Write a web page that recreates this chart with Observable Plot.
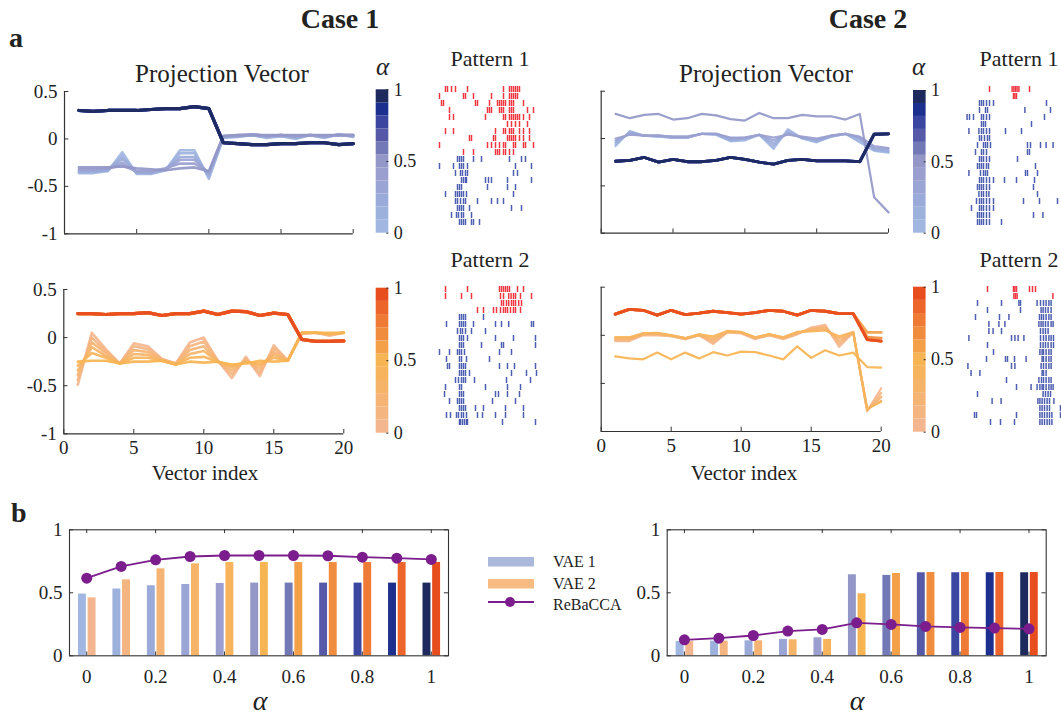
<!DOCTYPE html>
<html><head><meta charset="utf-8">
<script src="https://cdn.jsdelivr.net/npm/d3@7"></script>
<script src="https://cdn.jsdelivr.net/npm/@observablehq/plot@0.6"></script>
<style>
body{margin:0;overflow:hidden;background:#fff;}
#root{position:relative;width:1061px;height:717px;font-family:"Liberation Serif","Times New Roman",serif;color:#222;overflow:hidden;}
.t{position:absolute;white-space:nowrap;line-height:1;}
</style></head><body><div id="root"></div>
<script>
// ---------------- data ----------------
const vectorIndex = [1,2,3,4,5,6,7,8,9,10,11,12,13,14,15,16,17,18,19,20];
const alphas = [0,0.1,0.2,0.3,0.4,0.5,0.6,0.7,0.8,0.9,1];
const alphaTicks = [0,0.2,0.4,0.6,0.8,1];
const projTicksY = [-1,-0.5,0,0.5];
const projTicksX = [0,5,10,15,20];
const bluePalette = ["#a1b6e1","#9db1dd","#9aabd9","#9ba5d5","#9a9fcf","#9397c7","#7378b6","#5559a8","#3a469f","#1d2f8e","#1e2a5e"];
const orangePalette = ["#f4b68e","#f5b580","#f5b474","#f6b468","#f7b45c","#f7b452","#f3a048","#f08c3e","#ee7a36","#ec662c","#e84d1e"];

// Case 1, projection vector, pattern 1 (blue), one array per alpha
const c1TopDark = [0.30,0.29,0.30,0.30,0.30,0.31,0.32,0.32,0.34,0.32,-0.04,-0.05,-0.06,-0.06,-0.05,-0.05,-0.04,-0.04,-0.06,-0.05];
const c1TopLines = [
  [-0.36,-0.36,-0.34,-0.14,-0.37,-0.37,-0.33,-0.12,-0.12,-0.42,0.01,0.02,0.04,0.01,0.03,0.00,0.04,0.01,0.05,0.02],
  [-0.35,-0.35,-0.33,-0.18,-0.36,-0.36,-0.33,-0.15,-0.15,-0.40,0.02,0.03,0.04,0.02,0.03,0.01,0.04,0.02,0.05,0.03],
  [-0.34,-0.34,-0.33,-0.21,-0.35,-0.36,-0.32,-0.19,-0.19,-0.38,0.02,0.03,0.04,0.02,0.04,0.02,0.04,0.02,0.04,0.03],
  [-0.33,-0.33,-0.32,-0.25,-0.35,-0.35,-0.32,-0.22,-0.22,-0.36,0.03,0.03,0.05,0.03,0.04,0.02,0.04,0.03,0.04,0.04],
  [-0.32,-0.32,-0.31,-0.28,-0.34,-0.34,-0.31,-0.26,-0.26,-0.35,0.03,0.04,0.05,0.03,0.04,0.03,0.04,0.03,0.04,0.04],
  [-0.30,-0.30,-0.30,-0.29,-0.31,-0.32,-0.33,-0.31,-0.30,-0.34,0.03,0.04,0.04,0.04,0.04,0.04,0.04,0.04,0.04,0.04],
  c1TopDark, c1TopDark, c1TopDark, c1TopDark, c1TopDark
];
// Case 1, projection vector, pattern 2 (orange)
const c1BotDark = [0.25,0.25,0.24,0.25,0.25,0.26,0.23,0.25,0.25,0.275,0.24,0.275,0.27,0.23,0.255,0.24,-0.02,-0.04,-0.04,-0.035];
const c1BotLines = [
  [-0.49,0.05,-0.12,-0.27,-0.06,-0.09,-0.22,-0.27,-0.05,0.00,-0.24,-0.42,-0.20,-0.40,-0.08,-0.24,0.04,0.05,0.02,0.05],
  [-0.44,0.00,-0.14,-0.27,-0.09,-0.12,-0.23,-0.27,-0.09,-0.04,-0.24,-0.38,-0.22,-0.36,-0.11,-0.24,0.04,0.05,0.03,0.05],
  [-0.39,-0.05,-0.16,-0.27,-0.13,-0.15,-0.23,-0.27,-0.13,-0.09,-0.25,-0.34,-0.24,-0.32,-0.15,-0.24,0.05,0.05,0.03,0.05],
  [-0.34,-0.10,-0.19,-0.27,-0.17,-0.18,-0.24,-0.28,-0.17,-0.14,-0.25,-0.31,-0.25,-0.29,-0.18,-0.24,0.05,0.05,0.04,0.05],
  [-0.29,-0.16,-0.21,-0.27,-0.21,-0.21,-0.24,-0.28,-0.21,-0.20,-0.25,-0.29,-0.26,-0.27,-0.21,-0.24,0.05,0.05,0.04,0.05],
  [-0.25,-0.24,-0.24,-0.27,-0.25,-0.25,-0.24,-0.28,-0.25,-0.26,-0.25,-0.28,-0.27,-0.24,-0.25,-0.24,0.05,0.05,0.05,0.05],
  c1BotDark, c1BotDark, c1BotDark, c1BotDark, c1BotDark
];
// Case 2, projection vector, pattern 1 (blue)
const c2TopDark = [-0.24,-0.23,-0.20,-0.25,-0.22,-0.245,-0.245,-0.23,-0.20,-0.22,-0.25,-0.27,-0.23,-0.22,-0.235,-0.235,-0.235,-0.245,0.045,0.05];
const c2TopLines = [
  [-0.08,0.08,0.03,0.02,0.01,0.01,0.05,0.04,-0.03,-0.02,0.04,-0.11,0.10,0.00,-0.04,0.02,0.05,-0.04,-0.13,-0.15],
  [-0.06,0.07,0.03,0.02,0.01,0.01,0.05,0.04,-0.02,-0.01,0.04,-0.08,0.08,0.00,-0.03,0.02,0.05,-0.02,-0.12,-0.14],
  [-0.04,0.06,0.03,0.03,0.01,0.01,0.05,0.05,-0.01,0.00,0.04,-0.05,0.06,0.01,-0.02,0.03,0.05,0.00,-0.11,-0.13],
  [-0.02,0.05,0.03,0.03,0.02,0.02,0.05,0.05,0.00,0.01,0.04,-0.02,0.05,0.01,-0.01,0.03,0.05,0.01,-0.10,-0.11],
  [0.00,0.04,0.03,0.03,0.02,0.02,0.05,0.05,0.01,0.01,0.04,0.01,0.04,0.02,0.00,0.03,0.05,0.02,-0.08,-0.10],
  [0.26,0.215,0.25,0.26,0.20,0.215,0.26,0.245,0.205,0.19,0.27,0.215,0.215,0.25,0.235,0.235,0.20,0.26,-0.62,-0.78],
  c2TopDark, c2TopDark, c2TopDark, c2TopDark, c2TopDark
];
// Case 2, projection vector, pattern 2 (orange)
const c2BotLines = [
  [-0.06,-0.06,0.00,0.00,-0.01,-0.04,0.00,-0.09,0.03,0.02,-0.04,0.00,-0.04,0.01,0.08,0.11,-0.12,0.03,-0.79,-0.55],
  [-0.05,-0.05,0.01,0.01,-0.01,-0.04,0.00,-0.07,0.03,0.03,-0.03,0.00,-0.03,0.02,0.07,0.09,-0.09,0.03,-0.78,-0.60],
  [-0.04,-0.04,0.01,0.02,0.00,-0.03,0.00,-0.05,0.04,0.03,-0.03,0.01,-0.03,0.02,0.06,0.08,-0.06,0.03,-0.78,-0.64],
  [-0.03,-0.03,0.02,0.02,0.00,-0.03,0.01,-0.03,0.04,0.03,-0.02,0.01,-0.02,0.03,0.05,0.06,-0.03,0.03,-0.77,-0.68],
  [-0.02,-0.02,0.02,0.025,0.00,-0.03,0.01,-0.01,0.045,0.035,-0.02,0.01,-0.02,0.035,0.04,0.05,-0.01,0.035,-0.76,-0.69],
  [-0.22,-0.24,-0.25,-0.18,-0.25,-0.18,-0.24,-0.175,-0.21,-0.17,-0.175,-0.21,-0.25,-0.115,-0.235,-0.155,-0.21,-0.18,-0.33,-0.335],
  [0.22,0.27,0.26,0.21,0.26,0.215,0.23,0.25,0.235,0.22,0.235,0.26,0.25,0.21,0.26,0.25,0.225,0.225,0.03,0.03],
  [0.22,0.27,0.26,0.21,0.26,0.215,0.23,0.25,0.235,0.22,0.235,0.26,0.25,0.21,0.26,0.25,0.225,0.225,-0.02,-0.03],
  [0.22,0.27,0.26,0.21,0.26,0.215,0.23,0.25,0.235,0.22,0.235,0.26,0.25,0.21,0.26,0.25,0.225,0.225,-0.045,-0.06],
  [0.22,0.27,0.26,0.21,0.26,0.215,0.23,0.25,0.235,0.22,0.235,0.26,0.25,0.21,0.26,0.25,0.225,0.225,-0.045,-0.06],
  [0.22,0.27,0.26,0.21,0.26,0.215,0.23,0.25,0.235,0.22,0.235,0.26,0.25,0.21,0.26,0.25,0.225,0.225,-0.045,-0.06]
];

// Spike rasters: spike positions (0-50 time bins) per trial row; first rows are red
const c1P1Red = 10;
const c1P1Rows = [
  [4,5,7,9,15,33,36,37,38,39,40,41],
  [1,13,14,18,27,33,36,37,38,39,40],
  [2,3,19,20,26,30,31,32,33,34,36,37,38,43],
  [6,25,26,27,31,32,33,36,37,38,45,48],
  [6,8,24,33,34,36,37,38,39,40,41,43,46],
  [35,37,39,41,45],
  [4,8,29,33,34,36,37,38,41,43,46],
  [16,17,28,29,35,36,37,38,39,41,43,46],
  [1,25,27,29,31,33,34,38,39,43,44,48],
  [13,18,29,30,31,33,34,36,38],
  [10,11,12,13,18,22,36,42,44],
  [1,8,11,12,13,15,39,47],
  [9,11.5,12.5,14,15,38,40],
  [12,13,14,14.5,24,25.5,27,35,47],
  [10,11,12,25,35,39],
  [4,9,10,11,12,13,14.5,38],
  [9,10,11.5,13,14,20,27,30,33],
  [10,11,12,13,16,37,42],
  [7,9.5,10.5,12,13,17],
  [11,12,13,14,17,18,21]
];
const c1P2Red = 4;
const c1P2Rows = [
  [4,15,31,32,33,34,35,36,40,43],
  [4,12,17,31.5,33,35.6,36.8,38,39,41.5,47],
  [32,33,34.5,35.6,37,38,39,40.6,42],
  [20,23,28,29.5,31.5,33,34,35,36.5,38,39,41.5],
  [11,12,13,14,23],
  [4.5,11,12,13,14,18,29,32,35.6,47,48],
  [10,11.5,12.5,14,17,24],
  [11,12,13,15,29,38,49],
  [11,12,13,22,32,33,49],
  [1,6,10,11,12,13.5,31,37],
  [4.5,11,12,14.5,26],
  [5,6,11,12,13,14,31,35,38.5,49],
  [11,12,13,14,16,37,44.5,49.5],
  [9,10.5,12,13,14,18.5,34.5,46.5],
  [4,11,12,24,35,41.5],
  [3.5,11,12,13,29,30.5,35,41],
  [6,10,11,12,13,27.5,39],
  [11,12,13,14,19,23,34,43],
  [4.5,6.5,9.5,10.5,12,13,14.5,20,22.5,29,34,43],
  [11,11.5,12.5,13.5,14.5,15,32.5,49]
];
const c2P1Red = 2;
const c2P1Rows = [
  [13,24.3,25.2,26,26.8,27.7,33],
  [25,25.7,26.5],
  [8,9,10,11.5,13,15,41.5],
  [8,11,12,30.7,43.5],
  [1.8,3,5,9,10,11.5,13,40.5],
  [9,10,11,34],
  [2.7,7.7,9,10,11.5,13,21,29],
  [8,9,10.5,12,13],
  [7,10,11,12,13.5,32,33.5,38.5,41.3,44.8],
  [6,9,10,11.5,32,33],
  [8,9,10,11.5,13,27],
  [7,8,9,10,11.5,12.5,36],
  [2.7,8.5,10,11,12,31,32,37],
  [8,9,10,11.5,13,15,20.5,26.5,35.5],
  [7,8,9,10,11.5,13,35],
  [7.7,9,10,11.5,12.7,37],
  [6.5,8,9,10,11.5,13,15,30,38,47],
  [4,8,9,10,11.5,13,15],
  [7,8,9,10,11.5,13,35,39.7],
  [7,8,9,10,11.5,13,19]
];
const c2P2Red = 2;
const c2P2Rows = [
  [12,25,25.7,26.5,33,34.5,36],
  [25.2,26,26.8,44.7],
  [7,19,27.7,28.5,36.8,38.5,40,41.3,42.7,43.8],
  [12,28.5,38.8,39.8,41,42.3,43.8],
  [6,18,22.7,38,39,40,41.3,42.7,43.8],
  [12.7,17.7,20.7,37.7,38.8,39.8,41,42.3,43.8,44.8],
  [12.7,14.8,19,38.5,39.8,41,42.3],
  [2.7,24,25.7,27.3,30.2,38.5,40,41.3,42.7,43.8,45],
  [12,38.5,39.8,41,42.3,43.8,45],
  [15,38.2,39.3,40,41.3,42.7,43.8],
  [11.5,21,22,25.5,31.3,39.3,40,41.3,42.7,43.8],
  [2.2,24,25.7,38.8,40,41.3,42.7,43.8],
  [3.8,8.2,39.3,40,41.3],
  [21.5,37.7,39,40,41.3,42.7,43.8],
  [26.5,33.8,36.8,38.2,39.3,40,41.3,42.7,43.8,44.8],
  [7,39.8,41,42.3,43.5],
  [14.3,18.8,37.2,38.2,39.3,40.5,41.8,43,45.2],
  [38.2,39.3,40.5,41.8,43,48.5],
  [5.5,6.5,26.5,38.2,39.3,40.5,41.8,43,44.2,48.5],
  [13.5,18.5,25.5,38.2,39.3,40.5,41.8,43,44.2]
];

// Panel b: similarity vs alpha
const c1VAE1 = [0.49,0.53,0.556,0.566,0.574,0.577,0.577,0.577,0.577,0.577,0.577];
const c1VAE2 = [0.46,0.603,0.69,0.73,0.74,0.74,0.74,0.74,0.74,0.74,0.74];
const c1ReBaCCA = [0.616,0.709,0.762,0.788,0.796,0.796,0.796,0.794,0.783,0.775,0.765];
const c2VAE1 = [0.114,0.116,0.119,0.13,0.143,0.643,0.638,0.659,0.659,0.659,0.659];
const c2VAE2 = [0.114,0.116,0.119,0.127,0.13,0.492,0.653,0.661,0.661,0.661,0.661];
const c2ReBaCCA = [0.127,0.14,0.161,0.196,0.209,0.262,0.249,0.233,0.225,0.22,0.214];
const barTicksY = [0,0.5,1];
const legendLabels = ["VAE 1","VAE 2","ReBaCCA"];

// ---------------- layout helpers ----------------
const root = document.getElementById("root");
const FONT = "Liberation Serif, Times New Roman, serif";
const AX = "#333";
const PURPLE = "#7b1d8c";
function place(node, left, top){ node.style.position="absolute"; node.style.left=left+"px"; node.style.top=top+"px"; root.appendChild(node); return node; }
function txt(s, x, baseline, size, o={}){
  const d=document.createElement("div"); d.className="t"; d.textContent=s;
  d.style.fontSize=size+"px"; d.style.left=x+"px"; d.style.top=(baseline-0.84*size)+"px";
  if(o.bold) d.style.fontWeight="bold";
  if(o.italic) d.style.fontStyle="italic";
  if(o.center) d.style.transform="translateX(-50%)";
  root.appendChild(d); return d;
}
const baseStyle = {fontFamily: FONT, fontSize:"19px", color:"#222", background:"transparent", overflow:"visible"};
const fmt = d => String(d);

function projPlot(lines, palette, o){
  const marks = [];
  lines.forEach((arr,i)=>{
    marks.push(Plot.line(arr.map((v,j)=>({x:vectorIndex[j], y:v})), {x:"x", y:"y", stroke: palette[i], strokeWidth: o.sw[i>=6?1:0], strokeOpacity:0.92, strokeLinejoin:"round", strokeLinecap:"round"}));
  });
  marks.push(Plot.ruleX([0], {y1:-1, y2:0.5, stroke:AX, strokeWidth:1.2}));
  marks.push(Plot.ruleY([-1], {x1:0, x2:20, stroke:AX, strokeWidth:1.2}));
  marks.push(Plot.ruleY(projTicksY, {y:d=>d, x1:0, x2:0.3, stroke:AX, strokeWidth:1}));
  marks.push(Plot.ruleX(projTicksX, {x:d=>d, y1:-1, y2:-0.955, stroke:AX, strokeWidth:1}));
  return Plot.plot({
    width:o.w, height:o.h, marginLeft:o.ml, marginRight:o.mr, marginTop:o.mt, marginBottom:o.mb,
    style: baseStyle,
    x: o.xlab ? {domain:[0,20], ticks:projTicksX, tickSize:0, tickPadding:7, tickFormat:fmt, label:null} : {domain:[0,20], axis:null},
    y: o.ylab ? {domain:[-1,0.5], ticks:projTicksY, tickSize:0, tickPadding:7, tickFormat:fmt, label:null} : {domain:[-1,0.5], axis:null},
    marks
  });
}

function colorbar(palette, o){
  const bands = alphas.map((a,i)=>({i, color: palette[i]}));
  return Plot.plot({
    width:50, height:160, marginLeft:o.ml, marginRight:50-o.ml-12.6, marginTop:o.mt, marginBottom:160-o.mt-o.hh,
    style: {...baseStyle, fontSize:"18px"},
    color:{type:"identity"},
    x:{domain:[0,1], axis:null},
    y:{domain:[0,1], ticks:[0,0.5,1], tickSize:0, tickPadding:5, axis:"right", tickFormat:fmt, label:null},
    marks:[
      Plot.rect(bands, {x1:0, x2:1, y1:d=>d.i/11, y2:d=>(d.i+1)/11, fill:"color"}),
      Plot.ruleY([0,0.5,1], {y:d=>d, x1:0.85, x2:1, stroke:"#222", strokeWidth:1})
    ]
  });
}

function raster(rows, nRed, o){
  const data = rows.flatMap((r,i)=>r.map(c=>({c, row:i, red:i<nRed})));
  return Plot.plot({
    width:o.w, height:170, marginLeft:7, marginRight:o.mr, marginTop:o.mt, marginBottom:170-o.mt-155.5,
    style: baseStyle,
    color:{type:"identity"},
    x:{domain:[0,o.xmax], axis:null},
    y:{type:"band", domain:rows.map((r,i)=>i), axis:null, padding:0.2},
    marks:[Plot.tickX(data, {x:"c", y:"row", stroke:d=>d.red?"#f2202a":"#3a4ea8", strokeWidth:1.5, strokeOpacity:0.9})]
  });
}

function barPlot(v1, v2, reb, o){
  const rows = alphas.map((a,i)=>({a, v1:v1[i], v2:v2[i], r:reb[i], c1:bluePalette[i], c2:orangePalette[i]}));
  return Plot.plot({
    width:425, height:175, marginLeft:o.ml, marginRight:425-o.ml-379, marginTop:14.3, marginBottom:34.7,
    style: baseStyle,
    color:{type:"identity"},
    x:{domain:[-0.05,1.05], ticks:alphaTicks, tickSize:0, tickPadding:14, tickFormat:fmt, label:null},
    y:{domain:[0,1], ticks:barTicksY, tickSize:0, tickPadding:7, tickFormat:fmt, label:null},
    marks:[
      Plot.rectY(rows, {x1:d=>d.a-0.024, x2:d=>d.a-0.001, y1:0, y2:"v1", fill:"c1"}),
      Plot.rectY(rows, {x1:d=>d.a+0.004, x2:d=>d.a+0.027, y1:0, y2:"v2", fill:"c2"}),
      Plot.ruleX(alphaTicks, {x:d=>d, y1:0, y2:0.03, stroke:AX, strokeWidth:1}),
      Plot.ruleX(alphaTicks, {x:d=>d, y1:0.97, y2:1, stroke:AX, strokeWidth:1}),
      Plot.ruleY(barTicksY, {y:d=>d, x1:-0.05, x2:-0.038, stroke:AX, strokeWidth:1}),
      Plot.ruleY(barTicksY, {y:d=>d, x1:1.038, x2:1.05, stroke:AX, strokeWidth:1}),
      Plot.frame({stroke:AX, strokeWidth:1.1}),
      Plot.line(rows, {x:"a", y:"r", stroke:PURPLE, strokeWidth:1.8}),
      Plot.dot(rows, {x:"a", y:"r", r:5.5, fill:PURPLE, stroke:"none"})
    ]
  });
}

// ---------------- panel a ----------------
place(projPlot(c1TopLines, bluePalette, {w:360,h:165,ml:64,mr:7.3,mt:11,mb:11.7,ylab:true,xlab:false,sw:[2.6,3.2]}), 0, 80);
place(projPlot(c1BotLines, orangePalette, {w:360,h:200,ml:63.3,mr:16.7,mt:19,mb:36.7,ylab:true,xlab:true,sw:[2.6,3.2]}), 0, 270);
place(projPlot(c2TopLines, bluePalette, {w:305,h:165,ml:10.7,mr:7,mt:10.7,mb:12.3,ylab:false,xlab:false,sw:[2.2,2.8]}), 590, 80);
place(projPlot(c2BotLines, orangePalette, {w:320,h:200,ml:20.7,mr:19.3,mt:16.7,mb:39,ylab:false,xlab:true,sw:[2.2,2.8]}), 580, 270);

place(colorbar(bluePalette, {ml:5.7, mt:9.3, hh:143.4}), 370, 80);
place(colorbar(orangePalette, {ml:5.7, mt:7.7, hh:145}), 370, 280);
place(colorbar(bluePalette, {ml:5, mt:10, hh:142.7}), 908, 80);
place(colorbar(orangePalette, {ml:5, mt:6.7, hh:145}), 908, 280);

place(raster(c1P1Rows, c1P1Red, {w:115, mr:8, mt:7.1, xmax:50}), 430, 70);
place(raster(c1P2Rows, c1P2Red, {w:115, mr:8, mt:7.8, xmax:50}), 430, 270);
place(raster(c2P1Rows, c2P1Red, {w:105, mr:0, mt:7.1, xmax:49}), 956, 70);
place(raster(c2P2Rows, c2P2Red, {w:105, mr:0, mt:7.8, xmax:49}), 956, 270);

// ---------------- panel b ----------------
place(barPlot(c1VAE1, c1VAE2, c1ReBaCCA, {ml:39}), 30, 515);
place(barPlot(c2VAE1, c2VAE2, c2ReBaCCA, {ml:36.7}), 630, 515);

// legend
const lg = document.createElementNS("http://www.w3.org/2000/svg","svg");
lg.setAttribute("width","60"); lg.setAttribute("height","60");
lg.innerHTML = `<rect x="3" y="2" width="46" height="9.5" fill="#aab8dc"/>
<rect x="3" y="24" width="46" height="9.5" fill="#f8bc82"/>
<line x1="3" y1="47" x2="49" y2="47" stroke="${PURPLE}" stroke-width="1.8"/>
<circle cx="25" cy="47" r="5" fill="${PURPLE}"/>`;
place(lg, 485, 555);
txt(legendLabels[0], 553, 567, 16);
txt(legendLabels[1], 553, 589, 16);
txt(legendLabels[2], 553, 610, 16);

// ---------------- texts ----------------
txt("Case 1", 340, 29, 28, {bold:true, center:true});
txt("Case 2", 868, 29, 28, {bold:true, center:true});
txt("a", 9, 48, 28, {bold:true});
txt("b", 11, 523, 28, {bold:true});
txt("Projection Vector", 222, 82, 25, {center:true});
txt("Projection Vector", 766, 82, 25, {center:true});
txt("Pattern 1", 490, 66, 22, {center:true});
txt("Pattern 2", 490, 267, 22, {center:true});
txt("Pattern 1", 1019, 66, 22, {center:true});
txt("Pattern 2", 1019, 267, 22, {center:true});
txt("\u03B1", 376, 75, 25, {italic:true});
txt("\u03B1", 912, 75, 25, {italic:true});
txt("Vector index", 205, 481, 21, {center:true});
txt("Vector index", 744, 481, 21, {center:true});
txt("\u03B1", 260, 711, 28, {italic:true, center:true});
txt("\u03B1", 857, 711, 28, {italic:true, center:true});
</script></body></html>
